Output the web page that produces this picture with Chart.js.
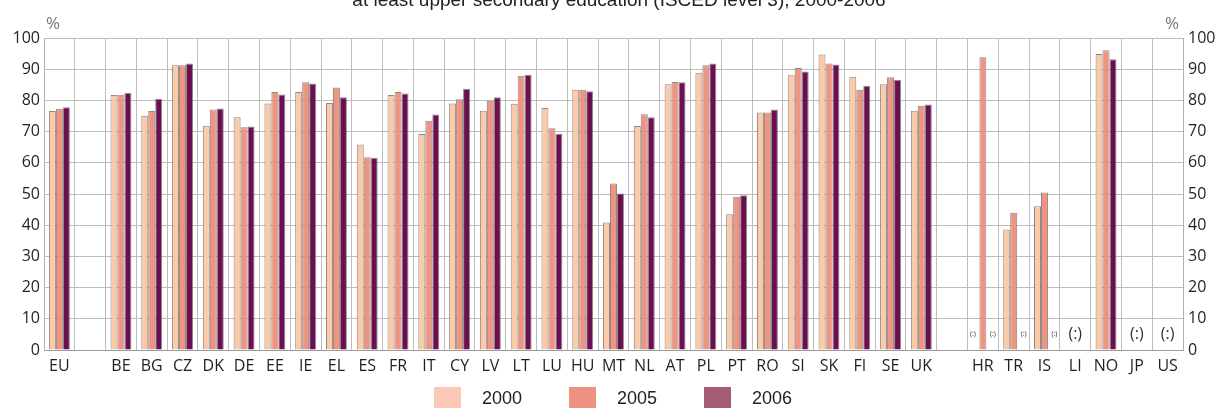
<!DOCTYPE html>
<html>
<head>
<meta charset="utf-8">
<script src="https://cdn.jsdelivr.net/npm/chart.js@4"></script>
<style>
  html, body { margin: 0; padding: 0; background: #fff; }
  #wrap { position: relative; width: 1216px; height: 408px; overflow: hidden; }
  #chart { position: absolute; left: 0; top: 0; }
  .title { position: absolute; left: 11px; width: 1216px; top: -11px; text-align: center;
    font: 19px "Liberation Sans", Arial, sans-serif; color: #222; white-space: nowrap; }
  .pct { position: absolute; top: 11px; font: 17px "Open Sans", sans-serif; color: #777; }
  .leg { position: absolute; top: 387px; height: 21px; width: 27px; }
  .legtxt { position: absolute; top: 388px; font: 18px "Liberation Sans", Arial, sans-serif; color: #222; }
</style>
</head>
<body>
<div id="wrap">
  <canvas id="chart" width="1216" height="408"></canvas>
  <div class="title">at least upper secondary education (ISCED level 3), 2000-2006</div>
  <div class="pct" style="left:46px">%</div>
  <div class="pct" style="left:1165px">%</div>
  <div class="leg" style="left:434px;background:#fac8b4"></div>
  <div class="legtxt" style="left:482px">2000</div>
  <div class="leg" style="left:569px;background:#ee9180"></div>
  <div class="legtxt" style="left:617px">2005</div>
  <div class="leg" style="left:704px;background:#a55c72"></div>
  <div class="legtxt" style="left:752px">2006</div>
</div>
<script>
const categories = ["EU", "", "BE", "BG", "CZ", "DK", "DE", "EE", "IE", "EL", "ES", "FR", "IT", "CY", "LV", "LT", "LU", "HU", "MT", "NL", "AT", "PL", "PT", "RO", "SI", "SK", "FI", "SE", "UK", "", "HR", "TR", "IS", "LI", "NO", "JP", "US"];

const values2000 = [76.6, null, 81.7, 75.1, 91.3, 71.9, 74.6, 79.0, 82.7, 79.2, 65.9, 81.7, 69.2, 79.0, 76.7, 78.9, 77.6, 83.4, 40.9, 71.8, 85.2, 88.9, 43.5, 76.1, 88.1, 94.7, 87.6, 85.2, 76.7, null, null, 38.6, 46.1, null, 94.9, null, null];
const values2005 = [77.3, null, 81.8, 76.6, 91.3, 77.1, 71.4, 82.7, 85.8, 84.1, 61.8, 82.7, 73.5, 80.4, 79.9, 87.9, 71.1, 83.4, 53.4, 75.6, 85.9, 91.3, 49.1, 76.1, 90.4, 91.8, 83.4, 87.4, 78.3, null, 93.8, 44.0, 50.5, null, 96.1, null, null];
const values2006 = [77.8, null, 82.4, 80.5, 91.8, 77.4, 71.6, 81.9, 85.4, 81.0, 61.6, 82.2, 75.5, 83.7, 81.0, 88.2, 69.3, 82.9, 50.2, 74.6, 85.8, 91.8, 49.6, 77.1, 89.3, 91.5, 84.7, 86.5, 78.7, null, null, null, null, null, 93.2, null, null];

// "(:)" = not available: small per bar, large for whole country
const smallMissing = [["HR", 0], ["HR", 2], ["TR", 2], ["IS", 2]];
const bigMissing = ["LI", "JP", "US"];

const yTicks = [0, 10, 20, 30, 40, 50, 60, 70, 80, 90, 100];

const CAT_PCT = 0.68;
const tickFont = { family: "'Open Sans', sans-serif", size: 16 };

const missingPlugin = {
  id: "missing",
  afterDatasetsDraw(chart) {
    const ctx = chart.ctx;
    const x = chart.scales.x;
    const y = chart.scales.y;
    const cell = x.width / categories.length;
    const barW = cell * CAT_PCT / 3;
    const yPos = y.getPixelForValue(0) - 16;
    ctx.save();
    ctx.fillStyle = "#333";
    ctx.textAlign = "center";
    ctx.textBaseline = "middle";
    ctx.font = "7px 'Open Sans', sans-serif";
    smallMissing.forEach(([code, ds]) => {
      const cx = x.getPixelForValue(categories.indexOf(code)) + (ds - 1) * barW;
      ctx.fillText("(:)", cx + (ds - 1) * 3, yPos);
    });
    ctx.font = "16px 'Open Sans', sans-serif";
    bigMissing.forEach((code) => {
      ctx.fillText("(:)", x.getPixelForValue(categories.indexOf(code)), yPos);
    });
    ctx.restore();
  },
};

const border = "rgba(120,105,105,0.8)";

new Chart(document.getElementById("chart"), {
  type: "bar",
  data: {
    labels: categories,
    datasets: [
      { label: "2000", data: values2000, backgroundColor: "#fbcaa6", borderColor: border, borderWidth: 1 },
      { label: "2005", data: values2005, backgroundColor: "#ee9480", borderColor: border, borderWidth: 1 },
      { label: "2006", data: values2006, backgroundColor: "#6c0f50", borderColor: border, borderWidth: 1 },
    ],
  },
  options: {
    responsive: false,
    animation: false,
    layout: { padding: { top: 38, bottom: 28, left: 0, right: 0 } },
    datasets: { bar: { categoryPercentage: CAT_PCT, barPercentage: 1 } },
    plugins: { legend: { display: false }, tooltip: { enabled: false } },
    scales: {
      x: {
        grid: { color: "#bdbdbd", lineWidth: 1, drawTicks: false, offset: true },
        border: { color: "#9a9a9a" },
        ticks: { color: "#231f20", font: tickFont, padding: 7, autoSkip: false, maxRotation: 0 },
        afterFit(scale) { scale.height = 30; },
      },
      y: {
        min: 0,
        max: 100,
        afterBuildTicks(scale) { scale.ticks = yTicks.map((v) => ({ value: v })); },
        grid: { color: "#bdbdbd", lineWidth: 1, drawTicks: false },
        border: { color: "#b0b0b0" },
        ticks: { color: "#231f20", font: tickFont, padding: 4 },
        afterFit(scale) { scale.width = 44; },
      },
      y2: {
        position: "right",
        min: 0,
        max: 100,
        afterBuildTicks(scale) { scale.ticks = yTicks.map((v) => ({ value: v })); },
        grid: { drawOnChartArea: false, drawTicks: false },
        border: { color: "#b0b0b0" },
        ticks: { color: "#231f20", font: tickFont, padding: 5 },
        afterFit(scale) { scale.width = 33; },
      },
    },
  },
  plugins: [missingPlugin],
});
</script>
</body>
</html>
